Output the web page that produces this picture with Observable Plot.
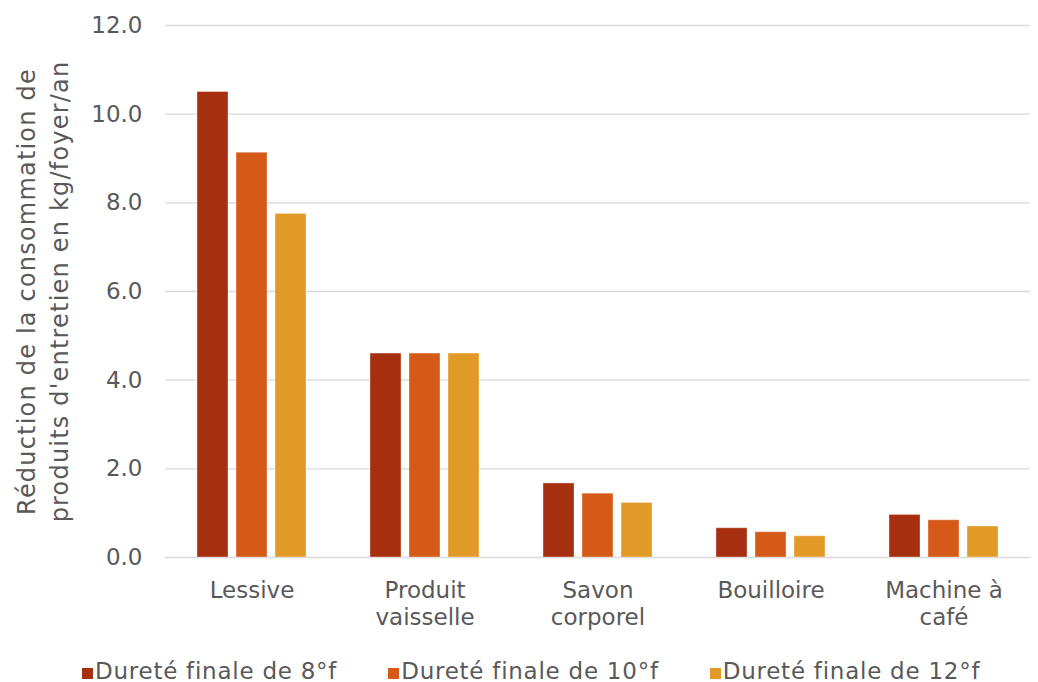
<!DOCTYPE html>
<html><head><meta charset="utf-8">
<script src="https://cdn.jsdelivr.net/npm/d3@7"></script>
<script src="https://cdn.jsdelivr.net/npm/@observablehq/plot@0.6"></script>
<style>
body{margin:0;background:#fff;font-family:"DejaVu Sans",Verdana,sans-serif;}
#chart{width:1038px;height:640px;}
#legend{display:flex;align-items:flex-end;padding-left:82px;margin-top:19px;height:24px;gap:51px;font-size:23px;color:#595959;line-height:24px;letter-spacing:0.75px;}
#legend .item{display:flex;align-items:center;white-space:nowrap;}
#legend .sw{width:11px;height:11px;margin-right:2px;position:relative;top:2px;}
</style></head><body><div id="chart"></div><div id="legend"></div>
<script>
const categories = ["Lessive","Produit vaisselle","Savon corporel","Bouilloire","Machine à café"];
const categoryLabels = ["Lessive","Produit\nvaisselle","Savon\ncorporel","Bouilloire","Machine à\ncafé"];
const series = ["Dureté finale de 8°f","Dureté finale de 10°f","Dureté finale de 12°f"];
const values8 = [10.5, 4.6, 1.67, 0.66, 0.96];
const values10 = [9.13, 4.6, 1.44, 0.57, 0.84];
const values12 = [7.75, 4.6, 1.23, 0.48, 0.70];
const colors = ["#A62F10","#D65A17","#E19A27"];
const yTicks = [0,2,4,6,8,10,12];
const yTitle = "Réduction de la consommation de\nproduits d'entretien en kg/foyer/an";

const seriesValues = [values8, values10, values12];
const data = [];
categories.forEach((c, i) => seriesValues.forEach((arr, j) => data.push({category: c, series: series[j], value: arr[i]})));
const labelOf = new Map(categories.map((c, i) => [c, categoryLabels[i]]));

const chart = Plot.plot({
  width: 1038, height: 640,
  marginTop: 25, marginBottom: 83, marginLeft: 165, marginRight: 8,
  style: {fontFamily: '"DejaVu Sans", Verdana, sans-serif', fontSize: "23px", color: "#595959", background: "#fff"},
  fx: {domain: categories, padding: 0, label: null, axis: null},
  x: {domain: series, paddingInner: 0.205, paddingOuter: 0.82, axis: null},
  y: {domain: [0, 12], label: null, axis: null},
  color: {domain: series, range: colors},
  marks: [
    Plot.gridY(yTicks, {stroke: "#D9D9D9", strokeOpacity: 1, strokeWidth: 1.4}),
    Plot.barY(data, {fx: "category", x: "series", y: "value", fill: "series", stroke: "#fff", strokeOpacity: 0.35, strokeWidth: 1}),
    Plot.axisY(yTicks, {tickFormat: d3.format(".1f"), tickSize: 0, tickPadding: 23, fontSize: 23, label: null}),
    Plot.axisFx({anchor: "bottom", tickFormat: d => labelOf.get(d), tickSize: 0, tickPadding: 21, fontSize: 23, lineHeight: 1.17, label: null}),
    Plot.text([yTitle], {fx: () => categories[0], frameAnchor: "left", textAnchor: "middle", rotate: -90, dx: -125, fontSize: 24, lineHeight: 1.38, fill: "#595959", className: "ytitle"})
  ]
});
chart.querySelectorAll(".ytitle text").forEach(t => t.style.letterSpacing = "1.2px");
document.getElementById("chart").appendChild(chart);

const legend = document.getElementById("legend");
series.forEach((s, i) => {
  const item = document.createElement("div");
  item.className = "item";
  const sw = document.createElement("span");
  sw.className = "sw";
  sw.style.background = colors[i];
  item.appendChild(sw);
  item.appendChild(document.createTextNode(s));
  legend.appendChild(item);
});
</script>
</body></html>
